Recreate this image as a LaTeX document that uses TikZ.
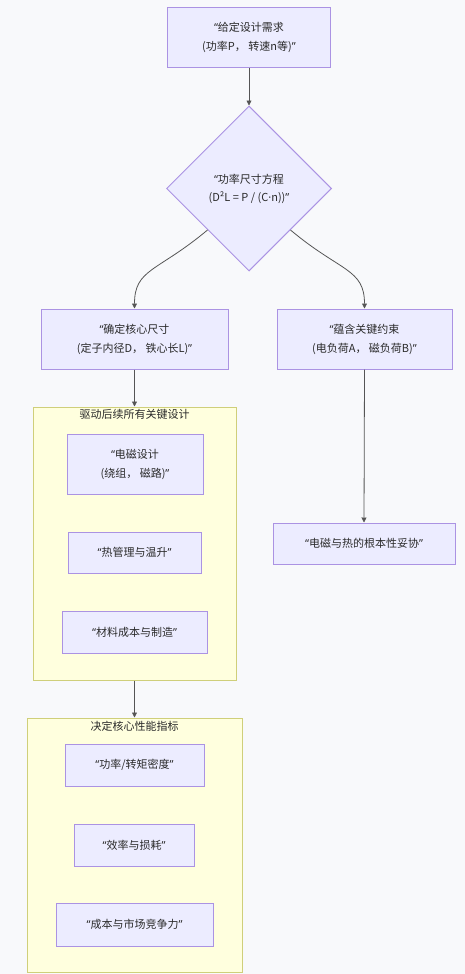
\documentclass[tikz,border=0pt]{standalone}
\usepackage{fontspec}
\setmainfont{Noto Sans CJK SC}
\newfontfamily\latf{Noto Sans}
\newcommand\qo{{\latf “}}
\newcommand\qc{{\latf ”}}
\usetikzlibrary{shapes.geometric,arrows.meta}
\definecolor{bgc}{HTML}{F8F9FB}
\definecolor{nfill}{HTML}{ECECFF}
\definecolor{nline}{HTML}{AB93E3}
\definecolor{sfill}{HTML}{FFFFDE}
\definecolor{sline}{HTML}{CFCF7A}
\definecolor{tcol}{HTML}{2A2A2A}
\definecolor{ecol}{HTML}{555555}
\tikzset{
  nbox/.style={draw=nline, fill=nfill, line width=1pt, align=center, inner sep=0pt, text=tcol,
    font=\fontsize{11}{19}\selectfont},
  ddia/.style={diamond, aspect=1, draw=nline, fill=nfill, line width=1pt, align=center, inner sep=0pt,
    text=tcol, font=\fontsize{11}{18}\selectfont, minimum width=165pt, minimum height=165pt},
  sgbox/.style={draw=sline, fill=sfill, line width=1pt, inner sep=0pt},
  sgtitle/.style={text=tcol, font=\fontsize{11}{13}\selectfont, inner sep=0pt},
  edge/.style={draw=ecol, line width=0.8pt, -{Triangle[length=5pt,width=5pt]}},
}
\begin{document}
\begin{tikzpicture}[x=1pt,y=-1pt]
\useasboundingbox (0,0) rectangle (465,974);
\fill[bgc] (0,0) rectangle (465,974);

\node[nbox, minimum width=163pt, minimum height=60pt] (top) at (249,37.5) {\qo 给定设计需求\\(功率P， 转速n等)\qc};
\node[ddia] (dia) at (249,188.5) {\qo 功率尺寸方程\\(D²L = P / (C{\latf ·}n))\qc};
\node[nbox, minimum width=187pt, minimum height=60pt] (core) at (134.5,339) {\qo 确定核心尺寸\\(定子内径D， 铁心长L)\qc};
\node[nbox, minimum width=175pt, minimum height=60pt] (cons) at (364.5,339) {\qo 蕴含关键约束\\(电负荷A， 磁负荷B)\qc};
\node[nbox, minimum width=182pt, minimum height=41pt] (trade) at (364,543.5) {\qo 电磁与热的根本性妥协\qc};

\node[sgbox, minimum width=203pt, minimum height=273pt] (sg1) at (134.5,543.5) {};
\node[sgtitle, anchor=north] (sg1t) at ([yshift=-3pt]sg1.north) {驱动后续所有关键设计};
\node[nbox, minimum width=136pt, minimum height=60pt] (em) at (135,464) {\qo 电磁设计\\(绕组， 磁路)\qc};
\node[nbox, minimum width=133pt, minimum height=41pt] (th) at (134.5,552.5) {\qo 热管理与温升\qc};
\node[nbox, minimum width=145pt, minimum height=42pt] (mat) at (134.5,632) {\qo 材料成本与制造\qc};

\node[sgbox, minimum width=215pt, minimum height=254pt] (sg2) at (134.5,845) {};
\node[sgtitle, anchor=north] (sg2t) at ([yshift=-3pt]sg2.north) {决定核心性能指标};
\node[nbox, minimum width=139pt, minimum height=42pt] (pd) at (134.5,765) {\qo 功率/转矩密度\qc};
\node[nbox, minimum width=120pt, minimum height=42pt] (eff) at (134,845) {\qo 效率与损耗\qc};
\node[nbox, minimum width=157pt, minimum height=43pt] (cost) at (134.5,924.5) {\qo 成本与市场竞争力\qc};

\draw[edge] (top.south) -- (dia.north);
\draw[edge] (dia.south west) .. controls +(-50,42) and +(0,-40) .. (core.north);
\draw[edge] (dia.south east) .. controls +(50,42) and +(0,-40) .. (cons.north);
\draw[edge] (core.south) -- (sg1.north);
\draw[edge] (sg1.south) -- (sg2.north);
\draw[edge] (cons.south) -- (trade.north);
\end{tikzpicture}
\end{document}
